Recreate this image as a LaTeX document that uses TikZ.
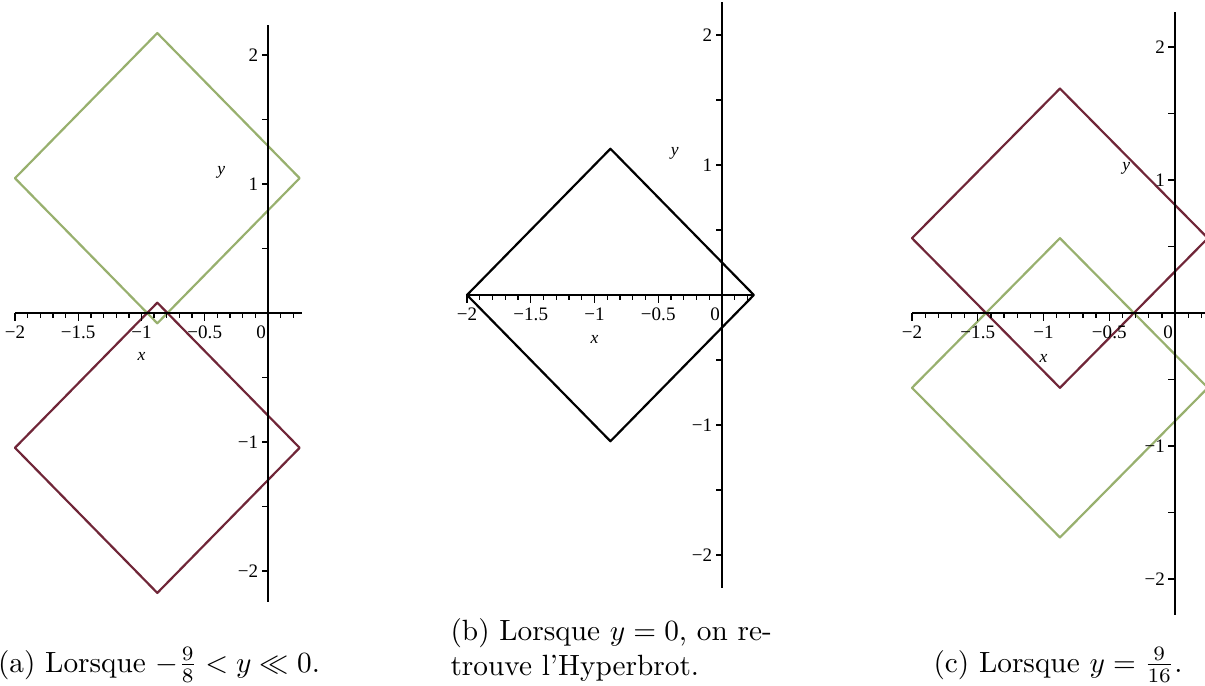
\documentclass[tikz,border=0pt]{standalone}
\usepackage{fontspec}
\newfontfamily\plotfont{Liberation Serif}
\usetikzlibrary{positioning}

\definecolor{mapleGreen}{RGB}{152,176,110}
\definecolor{mapleRed}{RGB}{112,38,56}

% axes of one Maple plot: #1 = panel, #2 = right end of x axis, #3/#4 = ends of y axis
\newcommand{\plotaxes}[4]{%
  \draw[axisline] (-2,0) -- (#2,0);
  \draw[axisline] (0,#3) -- (0,#4);
  \foreach \k in {-20,...,2} \draw[tickline] (\k/10,0) -- (\k/10,-0.035);   % minor ticks
  \foreach \k in {-4,...,0} \draw[tickline] (\k/2,0) -- (\k/2,-0.06);
  \foreach \k in {-4,...,-1,1,2,3,4} \draw[tickline] (0,\k/2) -- (-0.05,\k/2);
  \foreach \v/\t [count=\n] in {-2/{\char"2212 2}, -1.5/{\char"2212 1.5}, -1/{\char"2212 1}, -0.5/{\char"2212 0.5}}
    \node[ticklabel, anchor=north] (xl#1\n) at (\v,-0.07) {\t};
  \node[ticklabel, anchor=north east, inner xsep=0.5pt] (xz#1) at (0,-0.07) {0};
  \foreach \v/\t [count=\n] in {2/2, 1/1, -1/{\char"2212 1}, -2/{\char"2212 2}}
    \node[ticklabel, anchor=east] (yl#1\n) at (-0.05,\v) {\t};
  \node[axislabel] (xn#1) at (-1,-0.34) {x};
  \node[axislabel] (yn#1) at (-0.37,1.09) {y};
}

\begin{document}
\begin{tikzpicture}[line join=round,
    axisline/.style={line width=0.7pt},
    tickline/.style={line width=0.45pt},
    ticklabel/.style={font=\plotfont\fontsize{6.5}{7}\selectfont, inner sep=1pt},
    axislabel/.style={font=\plotfont\itshape\fontsize{6}{7}\selectfont, inner sep=0pt},
    greenline/.style={mapleGreen, line width=0.75pt},
    redline/.style={mapleRed, line width=0.75pt},
    blackline/.style={black, line width=0.75pt},
    caption/.style={inner sep=0pt}]
  \useasboundingbox (0,0) rectangle (14.46,8.22);
  \clip (0,0) rectangle (14.46,8.22);

  % (a) y slightly below 0
  \begin{scope}[shift={(3.216cm,4.464cm)}, x=1.518cm, y=1.548cm]
    \draw[greenline] (-2,1.045) -- (-0.875,2.17) -- (0.25,1.045) -- (-0.875,-0.08) -- cycle;
    \draw[redline] (-2,-1.045) -- (-0.875,-2.17) -- (0.25,-1.045) -- (-0.875,0.08) -- cycle;
    \plotaxes{a}{0.27}{-2.24}{2.23}
  \end{scope}

  % (b) y = 0
  \begin{scope}[shift={(8.664cm,4.68cm)}, x=1.53cm, y=1.56cm]
    \draw[blackline] (-2,0) -- (-0.875,1.125) -- (0.25,0) -- (-0.875,-1.125) -- cycle;
    \plotaxes{b}{0.245}{-2.25}{2.25}
  \end{scope}

  % (c) y = 9/16
  \begin{scope}[shift={(14.10cm,4.464cm)}, x=1.578cm, y=1.596cm]
    \draw[redline] (-2,0.5625) -- (-0.875,1.6875) -- (0.25,0.5625) -- (-0.875,-0.5625) -- cycle;
    \draw[greenline] (-2,-0.5625) -- (-0.875,0.5625) -- (0.25,-0.5625) -- (-0.875,-1.6875) -- cycle;
    \plotaxes{c}{0.3}{-2.27}{2.26}
  \end{scope}

  % sub-captions
  \node[caption, anchor=base] (capa) at (1.908,0.156) {(a) Lorsque $-\frac{9}{8} < y \ll 0$.};
  \node[caption, anchor=north west, align=left] (capb) at (5.40,0.804)
    {(b) Lorsque $y = 0$, on re-\\trouve l'Hyperbrot.};
  \node[caption, anchor=base] (capc) at (12.696,0.156) {(c) Lorsque $y = \frac{9}{16}$.};
\end{tikzpicture}
\end{document}
